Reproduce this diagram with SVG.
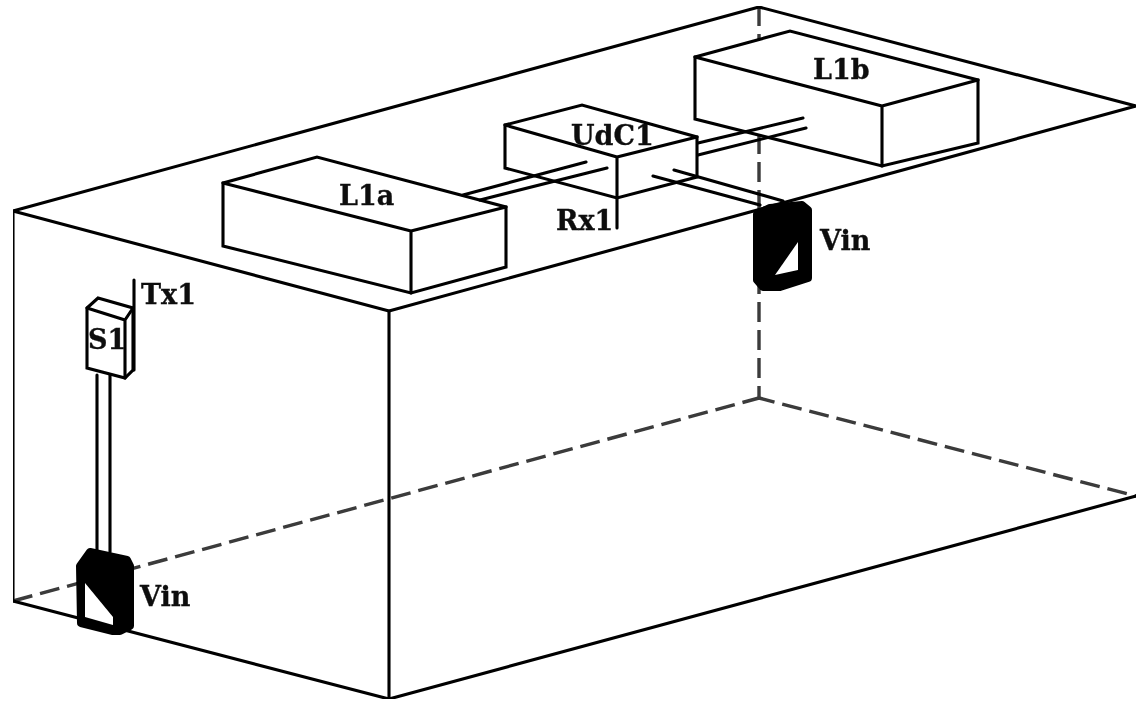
<svg xmlns="http://www.w3.org/2000/svg" width="1137" height="702" viewBox="0 0 1137 702">
<style>
.l{fill:none;stroke:#000;stroke-width:3.1;stroke-linejoin:round;stroke-linecap:round}
.b{fill:#fff;stroke:#000;stroke-width:3.1;stroke-linejoin:miter}
.d{fill:none;stroke:#3a3a3a;stroke-width:3.4;stroke-dasharray:20 8}
.k{fill:#000;stroke:#000;stroke-width:8;stroke-linejoin:round}
.w{fill:#fff}
.t{font-family:"DejaVu Serif",serif;font-weight:700;font-size:27px;fill:#111;stroke:#111;stroke-width:.35}
</style>
<defs><filter id="soft" x="0" y="0" width="100%" height="100%"><feGaussianBlur stdDeviation="0.5"/></filter></defs>
<rect width="1137" height="702" fill="#fff"/>
<g filter="url(#soft)">
<g id="room">
<path class="d" d="M13 601L759 398"/>
<path class="d" stroke-dashoffset="4" d="M759 398L1136 496"/>
<path class="d" d="M759 6V40"/>
<path class="d" d="M759 134V398"/>
<path class="l" d="M13 211L759 7L1136 106L389 311Z"/>
<path class="l" d="M13 211V601L389 699L1136 496M389 311V699"/>
</g>
<g id="L1a">
<path class="b" d="M223 183L317 157L506 207V267L411 293L223 246Z"/>
<path class="l" d="M223 183L411 231L506 207M411 231V293"/>
<text class="t" x="339" y="205">L1a</text>
</g>
<g id="L1b">
<path class="b" d="M695 57L790 31L978 80V143L882 166L695 119Z"/>
<path class="l" d="M695 57L882 106L978 80M882 106V166"/>
<text class="t" x="813" y="79">L1b</text>
</g>
<g id="UdC1">
<path class="b" d="M505 125L582 105L697 137V177L617 198L505 168Z"/>
<path class="l" d="M505 125L617 157L697 137M617 157V228"/>
<text class="t" x="571" y="145">UdC1</text>
<text class="t" x="556" y="230">Rx1</text>
</g>
<g id="connectors">
<path class="l" d="M463 195L586 162M480 200L607 168M698 143L803 118M698 155L806 128M653 176L760 205M674 170L783 201"/>
<path class="l" d="M97 375V550M110 375V552"/>
</g>
<g id="S1">
<path class="b" d="M87 308L98 298L133 308V370L125 378L87 368Z"/>
<path class="l" d="M87 308L125 320L133 308M125 320V378M134 280V370"/>
<text class="t" x="88" y="349">S1</text>
<text class="t" x="141" y="304">Tx1</text>
</g>
<g id="VinRight">
<path class="k" d="M757 214L770 208L802 205L808 210V278L780 287L763 287L757 280Z"/>
<path class="w" d="M798 242V270L775 275Z"/>
<text class="t" x="820" y="250">Vin</text>
</g>
<g id="VinLeft">
<path class="k" d="M80 566L90 552L127 560L130 566V626L120 631H113L81 623Z"/>
<path class="w" d="M85 583L113 617V625L85 617Z"/>
<text class="t" x="140" y="606">Vin</text>
</g>
</g>
</svg>
